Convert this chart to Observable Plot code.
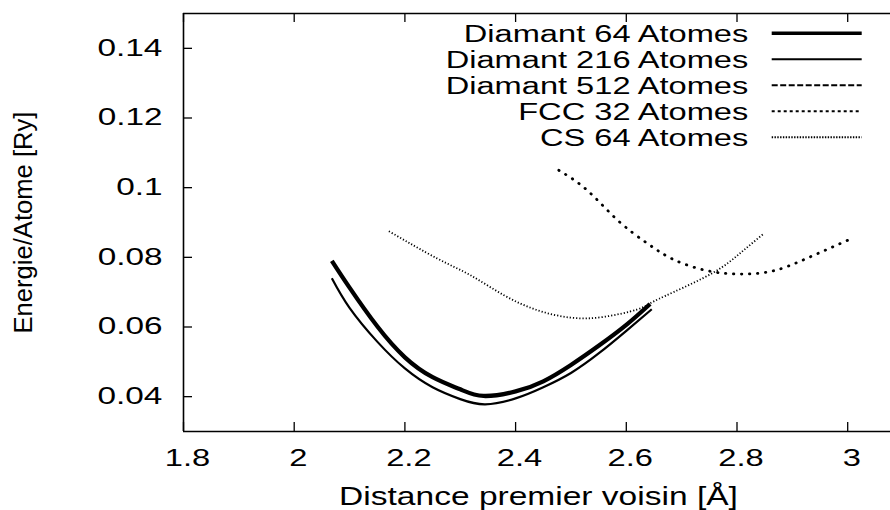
<!DOCTYPE html>
<html><head><meta charset="utf-8">
<script src="https://cdn.jsdelivr.net/npm/d3@7"></script>
<script src="https://cdn.jsdelivr.net/npm/@observablehq/plot@0.6"></script>
<style>
html,body{margin:0;padding:0;background:#fff;}
#chart{width:890px;height:510px;overflow:hidden;}
svg{font-family:"Liberation Sans",Arial,Helvetica,sans-serif;}
</style></head><body><div id="chart"></div>
<script>
const seriesNames = ["Diamant 64 Atomes","Diamant 216 Atomes","Diamant 512 Atomes","FCC 32 Atomes","CS 64 Atomes"];

const d64X  = [2.068, 2.10, 2.15, 2.20, 2.25, 2.30, 2.342, 2.40, 2.45, 2.50, 2.55, 2.60, 2.643];
const d64Y  = [0.0790, 0.0713, 0.0602, 0.0513, 0.0456, 0.0421, 0.0402, 0.0415, 0.0444, 0.0491, 0.0546, 0.0606, 0.0666];

const d216X = [2.068, 2.10, 2.15, 2.20, 2.25, 2.30, 2.345, 2.40, 2.45, 2.50, 2.55, 2.60, 2.646];
const d216Y = [0.0740, 0.0655, 0.0558, 0.0481, 0.0427, 0.0393, 0.0378, 0.0395, 0.0427, 0.0468, 0.0524, 0.0589, 0.0651];

const d512X = [];
const d512Y = [];

const fccX = [2.478, 2.529, 2.584, 2.638, 2.685, 2.745, 2.805, 2.865, 2.926, 3.007];
const fccY = [0.1050, 0.0993, 0.0907, 0.0840, 0.0794, 0.0762, 0.0752, 0.0761, 0.0797, 0.0854];

const csX = [2.171, 2.258, 2.318, 2.378, 2.438, 2.499, 2.559, 2.619, 2.643, 2.685, 2.757, 2.805, 2.849];
const csY = [0.0875, 0.0797, 0.0749, 0.0692, 0.0649, 0.0627, 0.0629, 0.0650, 0.0668, 0.0700, 0.0756, 0.0811, 0.0869];

const xTicks = [1.8, 2, 2.2, 2.4, 2.6, 2.8, 3];
const yTicks = [0.04, 0.06, 0.08, 0.1, 0.12, 0.14];
const xLabel = "Distance premier voisin [Å]";
const yLabel = "Energie/Atome [Ry]";

const lineStyles = [
  {w: 4.3, dash: null,      cap: "butt",  legendW: 3.6, legendDash: null},
  {w: 2.2, dash: null,      cap: "butt",  legendW: 2.0, legendDash: null},
  {w: 2.0, dash: "6,2.5",   cap: "butt",  legendW: 2.0, legendDash: "6,2.5"},
  {w: 2.8, dash: "0.4,7.6", cap: "round", legendW: 2.0, legendDash: "3,3"},
  {w: 1.8, dash: "1.2,2",   cap: "butt",  legendW: 2.0, legendDash: "1.4,1.4"}
];

const xsAll = [d64X, d216X, d512X, fccX, csX];
const ysAll = [d64Y, d216Y, d512Y, fccY, csY];
const rows = [];
seriesNames.forEach((name, i) => xsAll[i].forEach((x, j) => rows.push({series: name, x, y: ysAll[i][j]})));

const W = 890, H = 510, mL = 183, mR = 0, mT = 13, mB = 79;
const pxPerX = 553.5;
const xMax = 1.8 + (W - mL - mR) / pxPerX;
const frameW = W - mL - mR, frameH = H - mT - mB;

const lineMarks = seriesNames.map((name, i) => Plot.line(rows.filter(r => r.series === name), {
  x: "x", y: "y", stroke: "black", strokeWidth: lineStyles[i].w, strokeLinecap: lineStyles[i].cap,
  strokeDasharray: lineStyles[i].dash || undefined, curve: "natural"
}));

const svg = Plot.plot({
  width: W, height: H,
  marginLeft: mL, marginRight: mR, marginTop: mT, marginBottom: mB,
  style: {background: "white", color: "black", fontFamily: '"Liberation Sans", Arial, sans-serif'},
  x: {domain: [1.8, xMax]},
  y: {domain: [0.03, 0.15]},
  marks: [
    ...lineMarks,
    Plot.ruleX([1.8], {stroke: "black", strokeWidth: 1.6}),
    Plot.ruleY([0.03], {stroke: "black", strokeWidth: 1.6}),
    Plot.ruleY([0.15], {stroke: "black", strokeWidth: 1.4}),
    Plot.tickX(xTicks, {x: d => d, stroke: "black", strokeWidth: 1.3, insetTop: frameH - 9}),
    Plot.tickX(xTicks, {x: d => d, stroke: "black", strokeWidth: 1.3, insetBottom: frameH - 9}),
    Plot.tickY(yTicks, {y: d => d, stroke: "black", strokeWidth: 1.3, insetRight: frameW - 9}),
    Plot.axisX(xTicks, {tickSize: 0, tickPadding: 18, dx: 4, fontSize: 23, tickFormat: d => String(d), label: null}),
    Plot.axisY(yTicks, {tickSize: 0, tickPadding: 21, fontSize: 23, tickFormat: d => String(d), label: null}),
    Plot.text([xLabel], {text: d => d, frameAnchor: "bottom", dy: 65, dx: 1.5, fontSize: 25.6, lineAnchor: "middle", fill: "black", ariaLabel: () => "xlabel"}),
    Plot.text([yLabel], {text: d => d, frameAnchor: "left", dx: -160, rotate: -90, fontSize: 25.6, lineAnchor: "middle", textAnchor: "middle", fill: "black", ariaLabel: () => "ylabel"})
  ]
});

document.getElementById("chart").appendChild(svg);

// legend
const lg = d3.select(svg).append("g").attr("aria-label", "legend")
  .attr("font-family", '"Liberation Sans", Arial, sans-serif').attr("font-size", 23.3).attr("fill", "black");
const legendTop = 33.3, legendStep = 26, legendTextRight = 748.3, legendLineX1 = 771.7, legendLineX2 = 861.7;
seriesNames.forEach((name, i) => {
  const yy = legendTop + i * legendStep;
  lg.append("text").attr("x", legendTextRight).attr("y", yy).attr("dy", "0.36em")
    .attr("text-anchor", "end").text(name);
  const ln = lg.append("line").attr("x1", legendLineX1).attr("x2", legendLineX2).attr("y1", yy).attr("y2", yy)
    .attr("stroke", "black").attr("stroke-width", lineStyles[i].legendW);
  if (lineStyles[i].legendDash) ln.attr("stroke-dasharray", lineStyles[i].legendDash);
});

function stretchTexts(texts, s) {
  texts.forEach(t => {
    const b = t.getBBox();
    const anchor = getComputedStyle(t).textAnchor;
    const cx = anchor === "end" ? b.x + b.width : anchor === "middle" ? b.x + b.width / 2 : b.x;
    const tr = t.getAttribute("transform") || "";
    t.setAttribute("transform", tr + ` translate(${cx},0) scale(${s},1) translate(${-cx},0)`);
  });
}
stretchTexts(svg.querySelectorAll('g[aria-label="x-axis tick label"] text'), 1.42);
stretchTexts(svg.querySelectorAll('g[aria-label="y-axis tick label"] text'), 1.45);
stretchTexts(svg.querySelectorAll('text[aria-label="xlabel"]'), 1.31);
stretchTexts(svg.querySelectorAll('g[aria-label="legend"] text'), 1.40);
</script></body></html>
